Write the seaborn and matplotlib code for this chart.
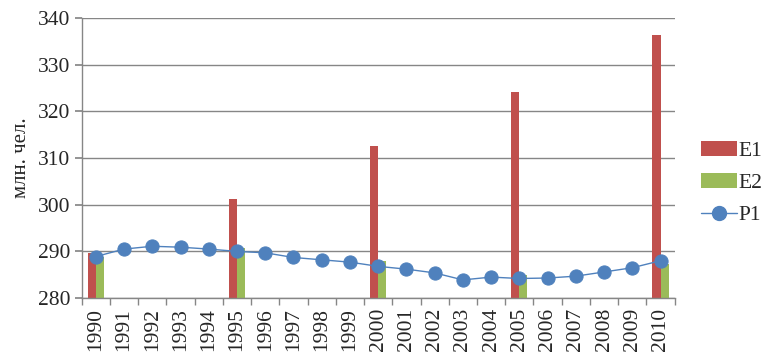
import numpy as np
import pandas as pd
import matplotlib
matplotlib.use("Agg")
import matplotlib.pyplot as plt
import seaborn as sns
from matplotlib.patches import Patch
from matplotlib.lines import Line2D

years = [str(y) for y in range(1990, 2011)]
bar_years = ["1990", "1995", "2000", "2005", "2010"]
e1_values = [289.7, 301.2, 312.6, 324.2, 336.4]
e2_values = [288.7, 290.8, 287.9, 284.9, 287.3]
p1_values = [288.9, 290.5, 291.1, 290.9, 290.5, 290.0, 289.7, 288.7, 288.2, 287.7,
             286.8, 286.2, 285.4, 283.9, 284.5, 284.2, 284.3, 284.7, 285.6, 286.5, 288.0]
series_names = ["E1", "E2", "P1"]
colors = {"E1": "#C0504D", "E2": "#9BBB59", "P1": "#4F81BD"}
y_label = "млн. чел."

sns.set_theme(style="white")
plt.rcParams["font.family"] = ["Liberation Serif", "DejaVu Serif"]

bars = pd.DataFrame({
    "year": bar_years * 2,
    "value": e1_values + e2_values,
    "series": ["E1"] * len(bar_years) + ["E2"] * len(bar_years),
})
line = pd.DataFrame({"year": years, "value": p1_values})

fig = plt.figure(figsize=(7.71, 3.64), dpi=100)
ax = fig.add_axes([0.106, 0.181, 0.769, 0.770])

sns.barplot(data=bars, x="year", y="value", hue="series", order=years,
            hue_order=["E1", "E2"], palette=[colors["E1"], colors["E2"]],
            width=0.57, saturation=1, ax=ax, legend=False)
for p in ax.patches:
    p.set_linewidth(0)
sns.pointplot(data=line, x="year", y="value", order=years, color=colors["P1"],
              markers="o", markersize=9.5, linewidth=1.0, ax=ax)

ax.set_ylim(280, 340)
ax.set_yticks(np.arange(280, 341, 10))
ax.set_xlim(-0.5, len(years) - 0.5)
ax.yaxis.grid(True, color="#868686", linewidth=1.0)
ax.set_axisbelow(True)
for s in ["top", "right"]:
    ax.spines[s].set_visible(False)
for s in ["left", "bottom"]:
    ax.spines[s].set_color("#868686")
    ax.spines[s].set_linewidth(1.0)

ax.set_xticks(range(len(years)))
ax.set_xticklabels(years, rotation=90, fontsize=15.5)
ax.set_xticks(np.arange(-0.5, len(years), 1.0), minor=True)
ax.tick_params(axis="x", which="major", length=0, pad=7)
ax.tick_params(axis="x", which="minor", length=5, color="#868686", direction="out", bottom=True)
ax.tick_params(axis="y", length=5, color="#868686", direction="out", left=True, labelsize=15.5, pad=3)
ax.set_xlabel("")
ax.set_ylabel(y_label, fontsize=15, labelpad=5)

handles = [
    Patch(facecolor=colors["E1"], edgecolor="none"),
    Patch(facecolor=colors["E2"], edgecolor="none"),
    Line2D([0], [0], color=colors["P1"], marker="o", markersize=10, linewidth=1.0),
]
ax.legend(handles, series_names, loc="center left", bbox_to_anchor=(1.044, 0.41),
          frameon=False, fontsize=15.5, handlelength=1.7, handletextpad=0.05,
          labelspacing=0.55, borderaxespad=0, borderpad=0, handleheight=0.7)

fig.savefig("out.png", dpi=100)
